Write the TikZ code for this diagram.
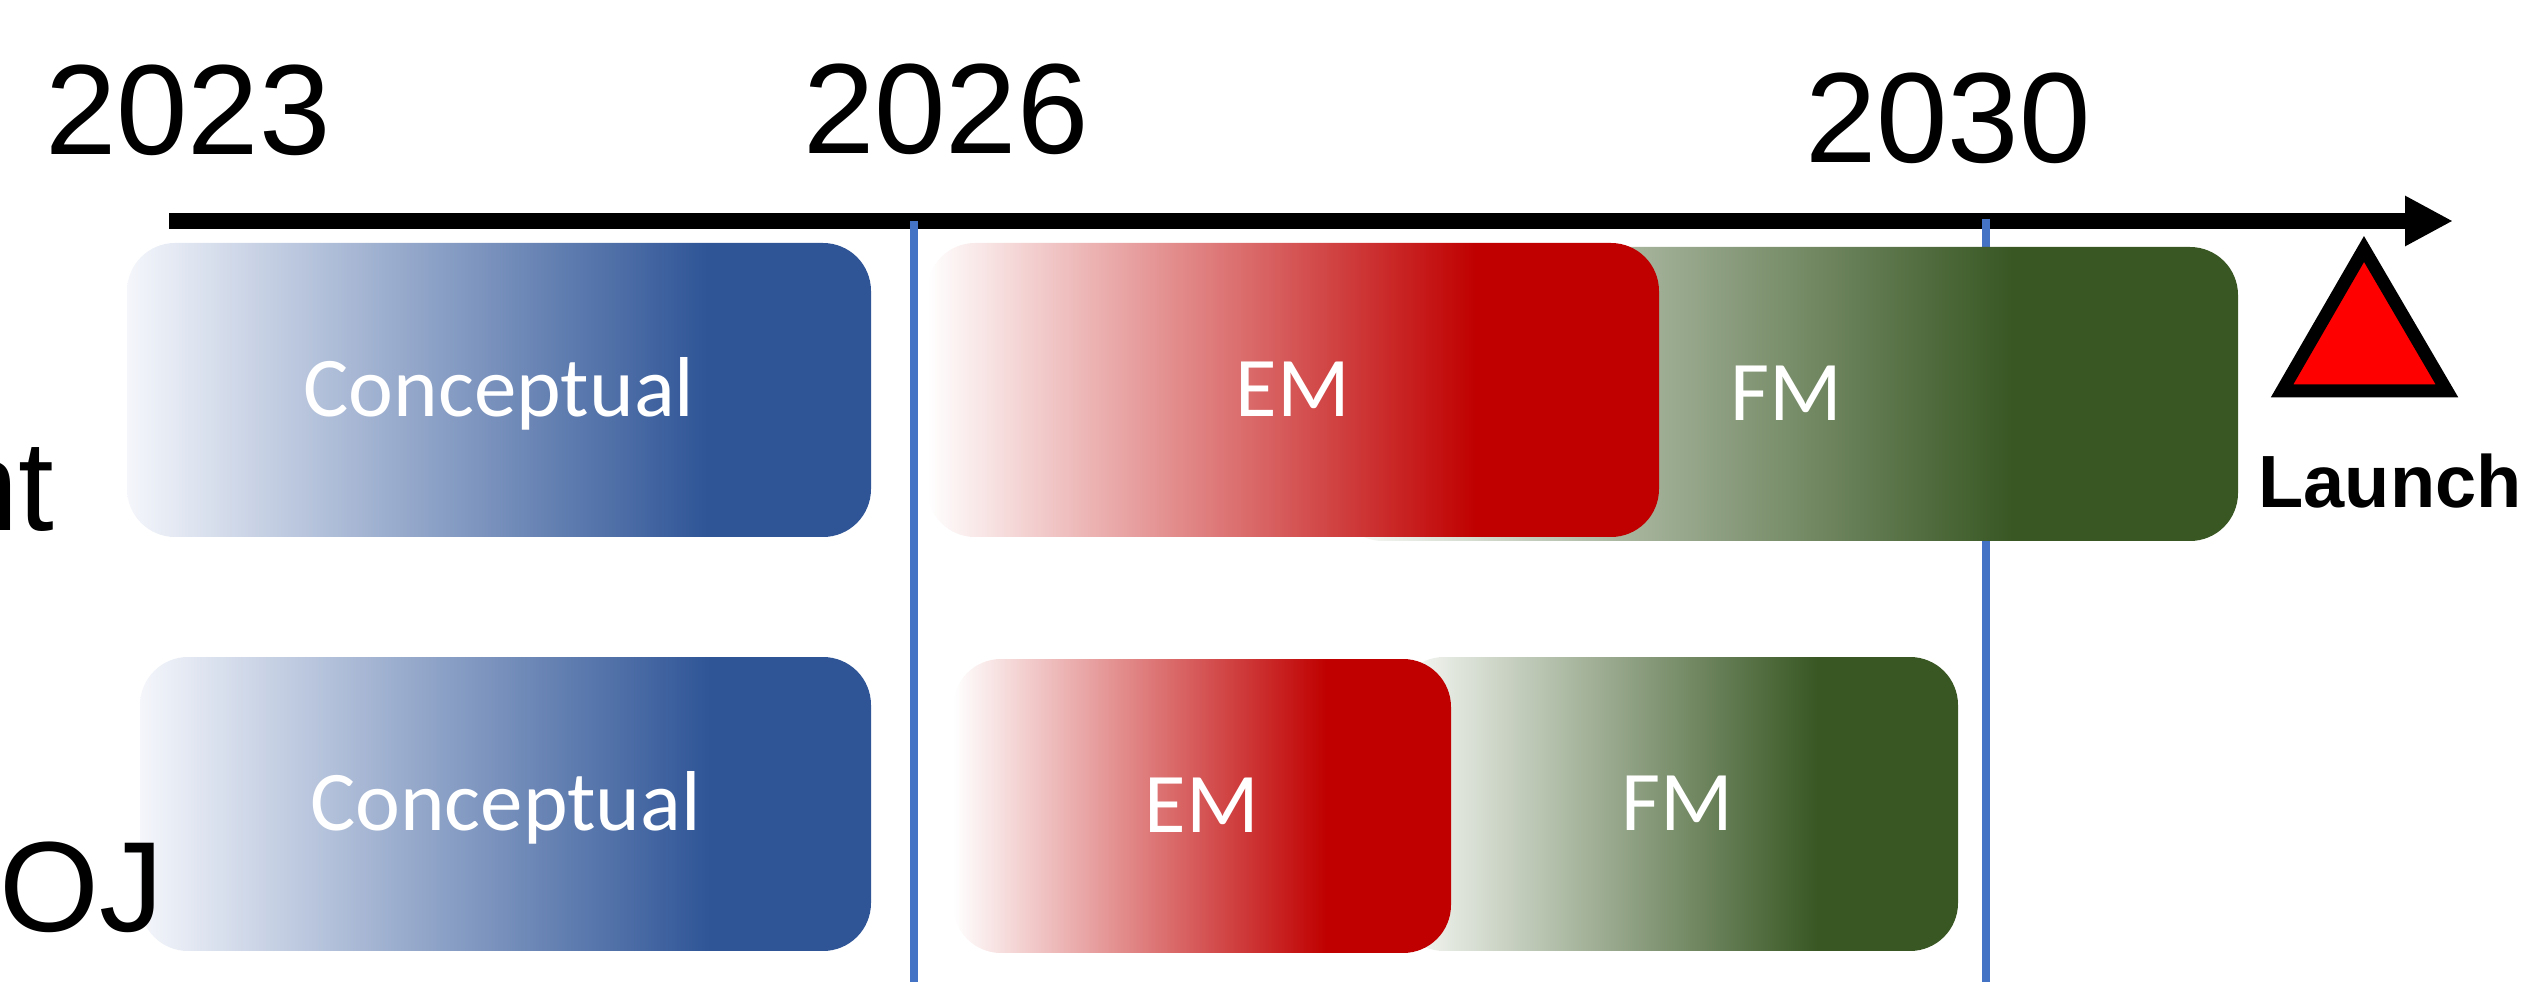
\documentclass[tikz,border=0pt]{standalone}
\usepackage{fontspec}
\setmainfont{Liberation Sans}
\newfontfamily\calib{Carlito}
\usetikzlibrary{arrows.meta}
\definecolor{cblue}{HTML}{2F5597}
\definecolor{cbluel}{HTML}{F4F6FB}
\definecolor{cred}{HTML}{C00000}
\definecolor{credl}{HTML}{FFFFFF}
\definecolor{cgreen}{HTML}{385723}
\definecolor{cgreenl}{HTML}{FCFDFB}
\definecolor{vblue}{HTML}{4472C4}
\definecolor{lred}{HTML}{FF0000}
\pgfdeclarehorizontalshading{blueg}{100bp}{color(0bp)=(cbluel); color(25bp)=(cbluel); color(64bp)=(cblue); color(100bp)=(cblue)}
\pgfdeclarehorizontalshading{redg}{100bp}{color(0bp)=(credl); color(25bp)=(credl); color(62.5bp)=(cred); color(100bp)=(cred)}
\pgfdeclarehorizontalshading{greeng}{100bp}{color(0bp)=(cgreenl); color(25bp)=(cgreenl); color(62.5bp)=(cgreen); color(100bp)=(cgreen)}
\tikzset{
  year/.style={inner sep=0pt, font=\fontsize{38.5pt}{40pt}\selectfont, text=black},
  phase/.style={rounded corners=14.4pt, inner sep=0pt, text=white,
    font=\calib\fontsize{25.5pt}{26pt}\selectfont, text height=16.1pt, text depth=0pt,
    minimum height=88.2pt},
  vline/.style={line width=2.4pt, draw=vblue},
  axisline/.style={line width=4.8pt, draw=black, -{Triangle[length=14.4pt, width=14.1pt]}},
  launchmark/.style={line width=3.9pt, draw=black, fill=lred, line join=miter}
}
\begin{document}
\begin{tikzpicture}[x=0.3pt, y=-0.3pt]
\useasboundingbox (0,0) rectangle (2526,982);
% years
\node[year, anchor=base] (y2023) at (188,155) {2023};
\node[year, anchor=base] (y2026) at (946,154) {2026};
\node[year, anchor=base] (y2030) at (1948,163) {2030};
% axis
\coordinate (axL) at (169,221);
\coordinate (axR) at (2453,221);
\draw[axisline] (axL) -- (axR);
% vertical markers
\coordinate (v1t) at (914,221);
\coordinate (v1b) at (914,982);
\coordinate (v2t) at (1986,219);
\coordinate (v2b) at (1986,982);
\draw[vline] (v1t) -- (v1b);
\draw[vline] (v2t) -- (v2b);
% row 1
\node[phase, shading=blueg, minimum width=223.2pt] (c1) at (499,390) {Conceptual};
\node[phase, shading=greeng, minimum width=270.9pt] (f1) at (1786.5,394) {FM};
\node[phase, shading=redg, minimum width=219.6pt] (e1) at (1293,390) {EM};
% row 2
\node[phase, shading=blueg, minimum width=219.3pt] (c2) at (505.5,804) {Conceptual};
\node[phase, shading=greeng, minimum width=168.6pt] (f2) at (1677,804) {FM};
\node[phase, shading=redg, minimum width=149.4pt] (e2) at (1202,806) {EM};
% row labels (cut off at the left edge), drawn over the boxes
\begin{scope}
\clip (0,0) rectangle (2526,982);
\node[year, anchor=base east] (rowa) at (55,531) {nt};
\node[year, anchor=base west] (rowb) at (-1,931) {OJ};
\end{scope}
% launch
\draw[launchmark] (2364,249) -- (2447,391) -- (2282,391) -- cycle;
\node[inner sep=0pt, anchor=base, font=\bfseries\fontsize{22.2pt}{24pt}\selectfont] (launch) at (2390,508) {Launch};
\end{tikzpicture}
\end{document}
